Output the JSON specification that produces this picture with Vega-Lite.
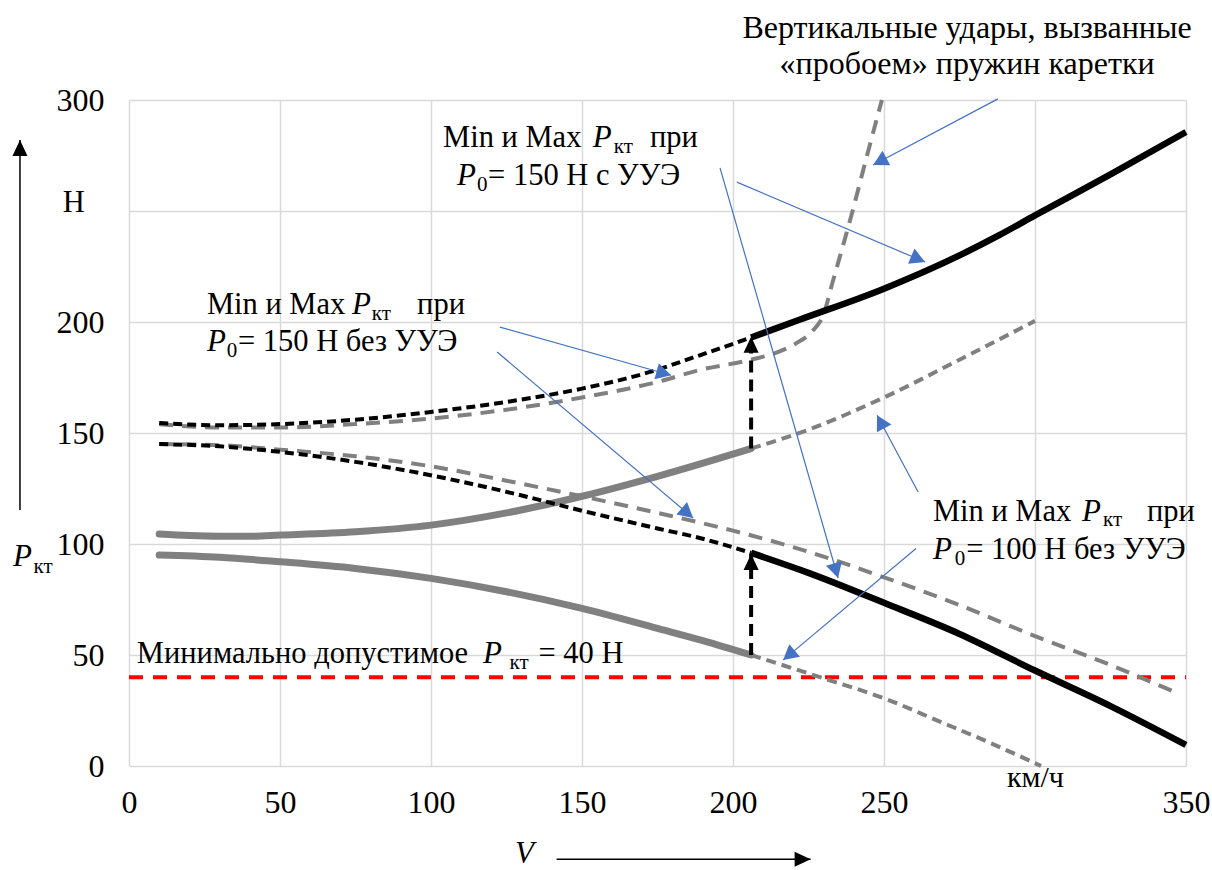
{
  "$schema": "https://vega.github.io/schema/vega-lite/v6.json",
  "width": 1057,
  "height": 666,
  "autosize": "none",
  "padding": {"left": 129, "top": 100, "right": 26, "bottom": 104},
  "background": "white",
  "config": {"view": {"stroke": null}},
  "datasets": {
    "curves": [
      {"s": "p100max", "v": 10, "P": 104.5}, {"s": "p100max", "v": 20, "P": 103.8}, {"s": "p100max", "v": 30, "P": 103.5}, {"s": "p100max", "v": 40, "P": 103.5}, {"s": "p100max", "v": 50, "P": 104}, {"s": "p100max", "v": 75, "P": 105.5}, {"s": "p100max", "v": 100, "P": 108.5}, {"s": "p100max", "v": 125, "P": 114}, {"s": "p100max", "v": 150, "P": 121.5}, {"s": "p100max", "v": 175, "P": 130.5}, {"s": "p100max", "v": 206, "P": 143},
      {"s": "p100min", "v": 10, "P": 95}, {"s": "p100min", "v": 30, "P": 94}, {"s": "p100min", "v": 50, "P": 92}, {"s": "p100min", "v": 75, "P": 89}, {"s": "p100min", "v": 100, "P": 84.5}, {"s": "p100min", "v": 125, "P": 78.5}, {"s": "p100min", "v": 150, "P": 71}, {"s": "p100min", "v": 175, "P": 62}, {"s": "p100min", "v": 190, "P": 56.5}, {"s": "p100min", "v": 206, "P": 50},
      {"s": "p100max_ext", "v": 206, "P": 143}, {"s": "p100max_ext", "v": 225, "P": 151.5}, {"s": "p100max_ext", "v": 250, "P": 166}, {"s": "p100max_ext", "v": 275, "P": 183}, {"s": "p100max_ext", "v": 300, "P": 200.5},
      {"s": "p100min_ext", "v": 206, "P": 50}, {"s": "p100min_ext", "v": 230, "P": 39.5}, {"s": "p100min_ext", "v": 250, "P": 30.5}, {"s": "p100min_ext", "v": 268.5, "P": 20}, {"s": "p100min_ext", "v": 285, "P": 10.5}, {"s": "p100min_ext", "v": 302, "P": 0},
      {"s": "p150u_max_pre", "v": 10, "P": 154.5}, {"s": "p150u_max_pre", "v": 30, "P": 153.5}, {"s": "p150u_max_pre", "v": 50, "P": 154}, {"s": "p150u_max_pre", "v": 75, "P": 156}, {"s": "p150u_max_pre", "v": 100, "P": 159.5}, {"s": "p150u_max_pre", "v": 125, "P": 164}, {"s": "p150u_max_pre", "v": 150, "P": 170}, {"s": "p150u_max_pre", "v": 170, "P": 176.5}, {"s": "p150u_max_pre", "v": 189, "P": 185}, {"s": "p150u_max_pre", "v": 206, "P": 193},
      {"s": "p150u_max", "v": 206, "P": 193}, {"s": "p150u_max", "v": 222, "P": 201}, {"s": "p150u_max", "v": 250, "P": 215}, {"s": "p150u_max", "v": 275, "P": 230}, {"s": "p150u_max", "v": 288, "P": 239}, {"s": "p150u_max", "v": 300, "P": 248}, {"s": "p150u_max", "v": 325, "P": 266.5}, {"s": "p150u_max", "v": 350, "P": 285.6},
      {"s": "p150_max", "v": 10, "P": 154}, {"s": "p150_max", "v": 30, "P": 152.5}, {"s": "p150_max", "v": 50, "P": 152.5}, {"s": "p150_max", "v": 75, "P": 154}, {"s": "p150_max", "v": 100, "P": 156.5}, {"s": "p150_max", "v": 125, "P": 160.5}, {"s": "p150_max", "v": 150, "P": 166}, {"s": "p150_max", "v": 175, "P": 173}, {"s": "p150_max", "v": 189, "P": 178.4}, {"s": "p150_max", "v": 206, "P": 183}, {"s": "p150_max", "v": 215, "P": 186.5}, {"s": "p150_max", "v": 221, "P": 190.5}, {"s": "p150_max", "v": 226, "P": 195.5}, {"s": "p150_max", "v": 230, "P": 203.5}, {"s": "p150_max", "v": 233, "P": 218}, {"s": "p150_max", "v": 239.4, "P": 249}, {"s": "p150_max", "v": 244, "P": 273}, {"s": "p150_max", "v": 249.3, "P": 300},
      {"s": "p150_min", "v": 10, "P": 145}, {"s": "p150_min", "v": 30, "P": 144.5}, {"s": "p150_min", "v": 50, "P": 142.5}, {"s": "p150_min", "v": 75, "P": 139.5}, {"s": "p150_min", "v": 100, "P": 135}, {"s": "p150_min", "v": 125, "P": 128.5}, {"s": "p150_min", "v": 150, "P": 121.5}, {"s": "p150_min", "v": 175, "P": 114}, {"s": "p150_min", "v": 200, "P": 106}, {"s": "p150_min", "v": 225, "P": 96.5}, {"s": "p150_min", "v": 250, "P": 85}, {"s": "p150_min", "v": 275, "P": 72.5}, {"s": "p150_min", "v": 300, "P": 58.5}, {"s": "p150_min", "v": 325, "P": 45.5}, {"s": "p150_min", "v": 346, "P": 33.5},
      {"s": "p150u_min_pre", "v": 10, "P": 145}, {"s": "p150u_min_pre", "v": 30, "P": 144}, {"s": "p150u_min_pre", "v": 50, "P": 141.5}, {"s": "p150u_min_pre", "v": 75, "P": 137}, {"s": "p150u_min_pre", "v": 96, "P": 132}, {"s": "p150u_min_pre", "v": 125, "P": 123.5}, {"s": "p150u_min_pre", "v": 150, "P": 115}, {"s": "p150u_min_pre", "v": 175, "P": 107}, {"s": "p150u_min_pre", "v": 189, "P": 102.7}, {"s": "p150u_min_pre", "v": 206, "P": 96},
      {"s": "p150u_min", "v": 206, "P": 96}, {"s": "p150u_min", "v": 225, "P": 87}, {"s": "p150u_min", "v": 250, "P": 73.5}, {"s": "p150u_min", "v": 275, "P": 59.5}, {"s": "p150u_min", "v": 300, "P": 43}, {"s": "p150u_min", "v": 325, "P": 27}, {"s": "p150u_min", "v": 350, "P": 9.5},
      {"s": "pmin", "v": 0, "P": 40}, {"s": "pmin", "v": 350, "P": 40}
    ],
    "vert": [
      {"v": 206, "P": 143, "P2": 193.4},
      {"v": 206, "P": 50, "P2": 95.5}
    ],
    "ptr": [
      {"v": 287.7, "P": 300.5, "v2": 246.4, "P2": 270.7},
      {"v": 201.3, "P": 263, "v2": 263.6, "P2": 227},
      {"v": 195.7, "P": 269.4, "v2": 234.8, "P2": 84.7},
      {"v": 122.8, "P": 197.7, "v2": 179.5, "P2": 176},
      {"v": 121.9, "P": 186.5, "v2": 186.8, "P2": 111.7},
      {"v": 261.3, "P": 123.4, "v2": 247.7, "P2": 158},
      {"v": 260.6, "P": 98, "v2": 216.6, "P2": 47.7}
    ],
    "guides": [
      {"v": 141.6, "P": -42, "v2": 225.7, "P2": -42},
      {"v": -36.1, "P": 115.3, "v2": -36.1, "P2": 282}
    ],
    "notes": [
      {"t": "Min и Max", "v": 104.0, "P": 278.8, "k": "n"},
      {"t": "P", "v": 153.6, "P": 278.8, "k": "i"},
      {"t": "кт", "v": 160.5, "P": 276.1, "k": "s"},
      {"t": "при", "v": 172.5, "P": 278.8, "k": "n"},
      {"t": "P", "v": 108.6, "P": 261.7, "k": "i"},
      {"t": "0", "v": 115.2, "P": 259.0, "k": "s"},
      {"t": "= 150 Н с УУЭ", "v": 118.9, "P": 261.7, "k": "n"},
      {"t": "Min и Max", "v": 25.8, "P": 203.6, "k": "n"},
      {"t": "P", "v": 73.8, "P": 203.6, "k": "i"},
      {"t": "кт", "v": 80.4, "P": 200.9, "k": "s"},
      {"t": "при", "v": 95.4, "P": 203.6, "k": "n"},
      {"t": "P", "v": 25.8, "P": 186.9, "k": "i"},
      {"t": "0", "v": 32.4, "P": 184.2, "k": "s"},
      {"t": "= 150 Н без УУЭ", "v": 36.1, "P": 186.9, "k": "n"},
      {"t": "Min и Max", "v": 266.2, "P": 110.5, "k": "n"},
      {"t": "P", "v": 315.6, "P": 110.5, "k": "i"},
      {"t": "кт", "v": 322.5, "P": 108.0, "k": "s"},
      {"t": "при", "v": 337.1, "P": 110.5, "k": "n"},
      {"t": "P", "v": 266.2, "P": 93.2, "k": "i"},
      {"t": "0", "v": 273.4, "P": 90.5, "k": "s"},
      {"t": "= 100 Н без УУЭ", "v": 277.2, "P": 93.2, "k": "n"},
      {"t": "Минимально допустимое", "v": 2.6, "P": 46.4, "k": "n"},
      {"t": "P", "v": 117.2, "P": 46.4, "k": "i"},
      {"t": "кт", "v": 126.0, "P": 43.7, "k": "s"},
      {"t": "= 40 Н", "v": 135.6, "P": 46.4, "k": "n"},
      {"t": "Вертикальные удары, вызванные", "v": 277.5, "P": 327.9, "k": "c"},
      {"t": "«пробоем» пружин каретки", "v": 277.5, "P": 311.7, "k": "c"},
      {"t": "V", "v": 127.8, "P": -43.5, "k": "i"},
      {"t": "P", "v": -38.4, "P": 90.1, "k": "i"},
      {"t": "кт", "v": -31.6, "P": 86.9, "k": "s"},
      {"t": "Н", "v": -21.9, "P": 249.5, "k": "n"},
      {"t": "км/ч", "v": 290.7, "P": -9.3, "k": "u"}
    ]
  },
  "encoding": {
    "x": {
      "field": "v", "type": "quantitative",
      "scale": {"domain": [0, 350], "nice": false, "zero": false},
      "axis": {
        "values": [0, 50, 100, 150, 200, 250, 300, 350],
        "title": null, "grid": true, "gridColor": "#d9d9d9", "gridWidth": 1.5,
        "domain": false, "ticks": false, "labelFont": "Liberation Serif",
        "labelColor": "black", "labelFlush": false, "labelOverlap": false,
        "labelFontSize": 32, "labelPadding": 21,
        "labelExpr": "datum.value == 300 ? '' : datum.label"
      }
    },
    "y": {
      "field": "P", "type": "quantitative",
      "scale": {"domain": [0, 300], "nice": false, "zero": false},
      "axis": {
        "values": [0, 50, 100, 150, 200, 250, 300],
        "title": null, "grid": true, "gridColor": "#d9d9d9", "gridWidth": 1.5,
        "domain": false, "ticks": false, "labelFont": "Liberation Serif",
        "labelColor": "black", "labelFontSize": 32, "labelFlush": false, "labelOverlap": false,
        "labelPadding": 25,
        "labelExpr": "datum.value == 250 ? '' : datum.label"
      }
    }
  },
  "layer": [
    {
      "data": {"name": "curves"},
      "transform": [{"filter": {"field": "s", "oneOf": ["pmin"]}}],
      "mark": {"type": "line", "color": "#ff0000", "strokeWidth": 4, "strokeDash": [14, 10]},
      "encoding": {"detail": {"field": "s"}}
    },
    {
      "data": {"name": "curves"},
      "transform": [{"filter": {"field": "s", "oneOf": ["p100max", "p100min"]}}],
      "mark": {"type": "line", "color": "#808080", "strokeWidth": 7, "strokeCap": "round", "interpolate": "monotone"},
      "encoding": {"detail": {"field": "s"}}
    },
    {
      "data": {"name": "curves"},
      "transform": [{"filter": {"field": "s", "oneOf": ["p100max_ext", "p100min_ext"]}}],
      "mark": {"type": "line", "color": "#808080", "strokeWidth": 4, "strokeDash": [10, 6], "interpolate": "monotone"},
      "encoding": {"detail": {"field": "s"}}
    },
    {
      "data": {"name": "curves"},
      "transform": [{"filter": {"field": "s", "oneOf": ["p150_max", "p150_min"]}}],
      "mark": {"type": "line", "color": "#808080", "strokeWidth": 4, "strokeDash": [14, 9], "interpolate": "monotone"},
      "encoding": {"detail": {"field": "s"}}
    },
    {
      "data": {"name": "curves"},
      "transform": [{"filter": {"field": "s", "oneOf": ["p150u_max_pre", "p150u_min_pre"]}}],
      "mark": {"type": "line", "color": "black", "strokeWidth": 4, "strokeDash": [9, 5], "interpolate": "monotone"},
      "encoding": {"detail": {"field": "s"}}
    },
    {
      "data": {"name": "curves"},
      "transform": [{"filter": {"field": "s", "oneOf": ["p150u_max", "p150u_min"]}}],
      "mark": {"type": "line", "color": "black", "strokeWidth": 6.5, "interpolate": "monotone"},
      "encoding": {"detail": {"field": "s"}}
    },
    {
      "data": {"name": "vert"},
      "mark": {"type": "rule", "color": "black", "strokeWidth": 4, "strokeDash": [12, 7]},
      "encoding": {"y2": {"field": "P2"}}
    },
    {
      "data": {"name": "vert"},
      "transform": [{"calculate": "datum.P2", "as": "P"}],
      "mark": {"type": "point", "shape": "M0,0L-0.47,1L0.47,1Z", "filled": true, "color": "black", "opacity": 1, "size": 1024, "strokeWidth": 0}
    },
    {
      "data": {"name": "ptr"},
      "mark": {"type": "rule", "color": "#4472c4", "strokeWidth": 1.2},
      "encoding": {"x2": {"field": "v2"}, "y2": {"field": "P2"}}
    },
    {
      "data": {"name": "ptr"},
      "transform": [
        {"calculate": "atan2((datum.v2 - datum.v) * 3.02, (datum.P2 - datum.P) * 2.22) * 180 / PI", "as": "ang"},
        {"calculate": "datum.v2", "as": "v"},
        {"calculate": "datum.P2", "as": "P"}
      ],
      "mark": {"type": "point", "shape": "M0,0L-0.55,1L0.55,1Z", "filled": true, "color": "#4472c4", "opacity": 1, "size": 900, "strokeWidth": 0},
      "encoding": {"angle": {"field": "ang", "type": "quantitative", "scale": null}}
    },
    {
      "data": {"name": "guides"},
      "mark": {"type": "rule", "color": "black", "strokeWidth": 1.5},
      "encoding": {"x2": {"field": "v2"}, "y2": {"field": "P2"}}
    },
    {
      "data": {"name": "guides"},
      "transform": [
        {"calculate": "atan2((datum.v2 - datum.v) * 3.02, (datum.P2 - datum.P) * 2.22) * 180 / PI", "as": "ang"},
        {"calculate": "datum.v2", "as": "v"},
        {"calculate": "datum.P2", "as": "P"}
      ],
      "mark": {"type": "point", "shape": "M0,0L-0.47,1L0.47,1Z", "filled": true, "color": "black", "opacity": 1, "size": 1024, "strokeWidth": 0},
      "encoding": {"angle": {"field": "ang", "type": "quantitative", "scale": null}}
    },
    {
      "data": {"name": "notes"},
      "transform": [{"filter": "datum.k == 'n'"}],
      "mark": {"type": "text", "align": "left", "baseline": "alphabetic", "font": "Liberation Serif", "fontSize": 30.5, "color": "black"},
      "encoding": {"text": {"field": "t"}}
    },
    {
      "data": {"name": "notes"},
      "transform": [{"filter": "datum.k == 'u'"}],
      "mark": {"type": "text", "align": "left", "baseline": "alphabetic", "font": "Liberation Serif", "fontSize": 30, "color": "black"},
      "encoding": {"text": {"field": "t"}}
    },
    {
      "data": {"name": "notes"},
      "transform": [{"filter": "datum.k == 'i'"}],
      "mark": {"type": "text", "align": "left", "baseline": "alphabetic", "font": "Liberation Serif", "fontStyle": "italic", "fontSize": 31, "color": "black"},
      "encoding": {"text": {"field": "t"}}
    },
    {
      "data": {"name": "notes"},
      "transform": [{"filter": "datum.k == 's'"}],
      "mark": {"type": "text", "align": "left", "baseline": "alphabetic", "font": "Liberation Serif", "fontSize": 21, "color": "black"},
      "encoding": {"text": {"field": "t"}}
    },
    {
      "data": {"name": "notes"},
      "transform": [{"filter": "datum.k == 'c'"}],
      "mark": {"type": "text", "align": "center", "baseline": "alphabetic", "font": "Liberation Serif", "fontSize": 32, "color": "black"},
      "encoding": {"text": {"field": "t"}}
    }
  ]
}
